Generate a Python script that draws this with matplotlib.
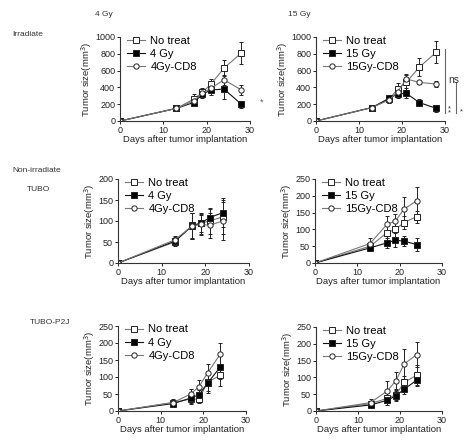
import matplotlib
matplotlib.use('Agg')
import matplotlib.pyplot as plt
from matplotlib.lines import Line2D

plt.rcParams['font.family'] = ['Liberation Sans', 'DejaVu Sans']

# days of measurement
days_irr = [0, 13, 17, 19, 21, 24, 28]
days_non = [0, 13, 17, 19, 21, 24]

# irradiated, 4 Gy
irr4_nt = [0, 150, 260, 340, 440, 630, 810]
irr4_nt_err = [0, 15, 60, 50, 60, 100, 130]
irr4_gy = [0, 150, 220, 320, 370, 380, 200]
irr4_gy_err = [0, 15, 40, 50, 60, 120, 40]
irr4_cd8 = [0, 150, 240, 330, 390, 490, 370]
irr4_cd8_err = [0, 15, 50, 50, 50, 60, 60]

# irradiated, 15 Gy
irr15_nt = [0, 160, 260, 380, 460, 640, 820]
irr15_nt_err = [0, 15, 50, 70, 90, 110, 130]
irr15_gy = [0, 160, 270, 320, 330, 220, 150]
irr15_gy_err = [0, 15, 40, 50, 60, 40, 40]
irr15_cd8 = [0, 160, 250, 350, 500, 460, 440]
irr15_cd8_err = [0, 15, 40, 50, 60, 20, 40]

# TUBO, 4 Gy
tubo4_nt = [0, 50, 90, 95, 100, 110]
tubo4_nt_err = [0, 10, 30, 25, 30, 40]
tubo4_gy = [0, 52, 88, 95, 108, 120]
tubo4_gy_err = [0, 10, 30, 20, 20, 35]
tubo4_cd8 = [0, 55, 88, 92, 90, 100]
tubo4_cd8_err = [0, 10, 30, 25, 30, 45]

# TUBO, 15 Gy
tubo15_nt = [0, 50, 90, 100, 120, 138]
tubo15_nt_err = [0, 10, 25, 25, 20, 18]
tubo15_gy = [0, 45, 60, 68, 65, 55]
tubo15_gy_err = [0, 10, 15, 20, 15, 20]
tubo15_cd8 = [0, 58, 115, 125, 160, 185]
tubo15_cd8_err = [0, 15, 25, 20, 35, 40]

# TUBO-P2J, 4 Gy
p2j4_nt = [0, 25, 35, 35, 85, 105]
p2j4_nt_err = [0, 8, 15, 10, 25, 30]
p2j4_gy = [0, 22, 38, 48, 82, 130]
p2j4_gy_err = [0, 8, 15, 15, 30, 35]
p2j4_cd8 = [0, 25, 50, 72, 112, 168]
p2j4_cd8_err = [0, 10, 15, 20, 25, 32]

# TUBO-P2J, 15 Gy
p2j15_nt = [0, 22, 38, 48, 85, 107]
p2j15_nt_err = [0, 8, 15, 15, 20, 30]
p2j15_gy = [0, 18, 32, 45, 65, 92]
p2j15_gy_err = [0, 8, 15, 15, 15, 18]
p2j15_cd8 = [0, 25, 60, 90, 140, 168]
p2j15_cd8_err = [0, 10, 28, 25, 45, 38]


def panel(rect, days, series, labels, ymax, ystep):
    ax = fig.add_axes(rect)
    styles = [('s', 'white', '#777777'), ('s', 'black', '#111111'), ('o', 'white', '#777777')]
    for (vals, err), lab, (mk, fc, lc) in zip(series, labels, styles):
        ax.errorbar(days, vals, yerr=err, marker=mk, markersize=3.8, mfc=fc, mec='#222222',
                    color=lc, lw=0.8, elinewidth=0.7, capsize=1.5, capthick=0.7,
                    ecolor='#222222', label=lab, mew=0.7)
    ax.set_xlim(0, 30)
    ax.set_ylim(0, ymax)
    ax.set_xticks([0, 10, 20, 30])
    ax.set_yticks(range(0, ymax + 1, ystep))
    for s in ['top', 'right']:
        ax.spines[s].set_visible(False)
    for s in ['left', 'bottom']:
        ax.spines[s].set_color('#333333')
        ax.spines[s].set_linewidth(0.8)
    ax.tick_params(labelsize=6.5, length=2.5, width=0.7, pad=1, colors='#222222')
    ax.set_xlabel('Days after tumor implantation', fontsize=6.8, labelpad=0, color='#222222')
    ax.set_ylabel('Tumor size(mm$^3$)', fontsize=6.8, labelpad=1, color='#222222')
    handles = [Line2D([], [], marker=mk, mfc=fc, mec='#222222', color=lc, lw=0.8, markersize=3.8, mew=0.7)
               for mk, fc, lc in styles]
    ax.legend(handles, labels, loc='upper left', bbox_to_anchor=(0.02, 1.07), frameon=False,
              fontsize=8, handlelength=1.6, handletextpad=0.5, labelspacing=0.3, borderaxespad=0)
    return ax


fig = plt.figure(figsize=(4.73, 4.45), dpi=100)
W, H = 473.0, 445.0


def r(x0, x1, y0, y1):
    return [x0 / W, 1 - y1 / H, (x1 - x0) / W, (y1 - y0) / H]


lab4 = ['No treat', '4 Gy', '4Gy-CD8']
lab15 = ['No treat', '15 Gy', '15Gy-CD8']

panel(r(120, 250, 37, 121), days_irr,
      [(irr4_nt, irr4_nt_err), (irr4_gy, irr4_gy_err), (irr4_cd8, irr4_cd8_err)], lab4, 1000, 200)
panel(r(316, 445, 37, 121), days_irr,
      [(irr15_nt, irr15_nt_err), (irr15_gy, irr15_gy_err), (irr15_cd8, irr15_cd8_err)], lab15, 1000, 200)
panel(r(118, 249, 179, 263), days_non,
      [(tubo4_nt, tubo4_nt_err), (tubo4_gy, tubo4_gy_err), (tubo4_cd8, tubo4_cd8_err)], lab4, 200, 50)
panel(r(315, 442, 179, 263), days_non,
      [(tubo15_nt, tubo15_nt_err), (tubo15_gy, tubo15_gy_err), (tubo15_cd8, tubo15_cd8_err)], lab15, 250, 50)
panel(r(118, 246, 326, 411), days_non,
      [(p2j4_nt, p2j4_nt_err), (p2j4_gy, p2j4_gy_err), (p2j4_cd8, p2j4_cd8_err)], lab4, 250, 50)
panel(r(316, 442, 327, 411), days_non,
      [(p2j15_nt, p2j15_nt_err), (p2j15_gy, p2j15_gy_err), (p2j15_cd8, p2j15_cd8_err)], lab15, 250, 50)

# row / column titles
tc = '#333333'
fig.text(95 / W, 1 - 15 / H, '4 Gy', fontsize=6, color=tc, va='center')
fig.text(288 / W, 1 - 15 / H, '15 Gy', fontsize=6, color=tc, va='center')
fig.text(12 / W, 1 - 34 / H, 'Irradiate', fontsize=6, color=tc, va='center')
fig.text(12 / W, 1 - 171 / H, 'Non-irradiate', fontsize=6, color=tc, va='center')
fig.text(27 / W, 1 - 190 / H, 'TUBO', fontsize=6, color=tc, va='center')
fig.text(30 / W, 1 - 322 / H, 'TUBO-P2J', fontsize=6, color=tc, va='center')

# significance marks
fig.text(262 / W, 1 - 102 / H, '*', fontsize=6.5, color='#555555', ha='center', va='center')
fig.add_artist(Line2D([445 / W, 445 / W], [1 - 49 / H, 1 - 113 / H], color='#666666', lw=0.8))
fig.add_artist(Line2D([456 / W, 456 / W], [1 - 82 / H, 1 - 113 / H], color='#666666', lw=0.8))
fig.text(448 / W, 1 - 80 / H, 'ns', fontsize=7.5, color='#333333', va='center')
fig.text(449.5 / W, 1 - 111 / H, '*\n*', fontsize=5.5, color='#333333', ha='center', va='center',
         linespacing=0.45)
fig.text(461 / W, 1 - 112 / H, '*', fontsize=5.5, color='#333333', ha='center', va='center')

fig.savefig('out.png', dpi=100)
